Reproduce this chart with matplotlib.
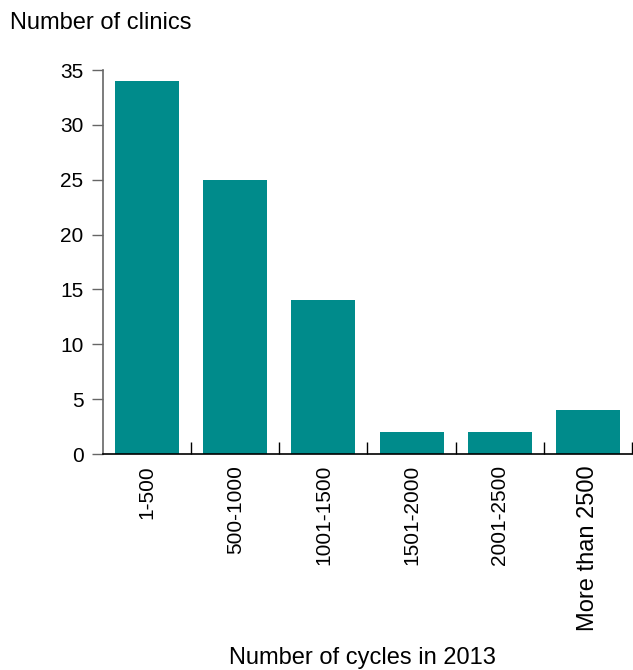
import matplotlib.pyplot as plt
import numpy as np

# Data
categories = ['1-500', '500-1000', '1001-1500', '1501-2000', '2001-2500', 'More than 2500']
clinics = [34, 25, 14, 2, 2, 4]

plt.rcParams['font.family'] = ['Liberation Sans', 'DejaVu Sans']

fig = plt.figure(figsize=(6.33, 6.70), dpi=100)
ax = fig.add_axes([103 / 633, 216 / 670, 529 / 633, 384 / 670])

teal = '#008b8b'
x = np.arange(len(categories))
ax.bar(x, clinics, width=0.727, color=teal)

ax.set_xlim(-0.5, len(categories) - 0.5)
ax.set_ylim(0, 35)
ax.set_yticks(range(0, 36, 5))

# x ticks sit between the bars, pointing up
ax.set_xticks(x)
ax.set_xticklabels(categories, rotation=90, fontsize=15)
ax.get_xticklabels()[-1].set_fontsize(17)
ax.tick_params(axis='x', which='major', length=0, pad=8)
ax.set_xticks(x + 0.5, minor=True)
ax.tick_params(axis='x', which='minor', direction='in', length=9, width=1, color='black')

ax.tick_params(axis='y', direction='out', length=8, width=1, color='#666666', labelsize=15, pad=6)

for side in ['top', 'right']:
    ax.spines[side].set_visible(False)
ax.spines['left'].set_color('#666666')
ax.spines['left'].set_linewidth(1.2)
ax.spines['bottom'].set_color('black')
ax.spines['bottom'].set_linewidth(1.2)

fig.text(10 / 633, 1 - 23 / 670, 'Number of clinics', fontsize=17, ha='left', va='center')
fig.text(362 / 633, 1 - 658 / 670, 'Number of cycles in 2013', fontsize=17, ha='center', va='center')

fig.savefig('out.png', dpi=100)
